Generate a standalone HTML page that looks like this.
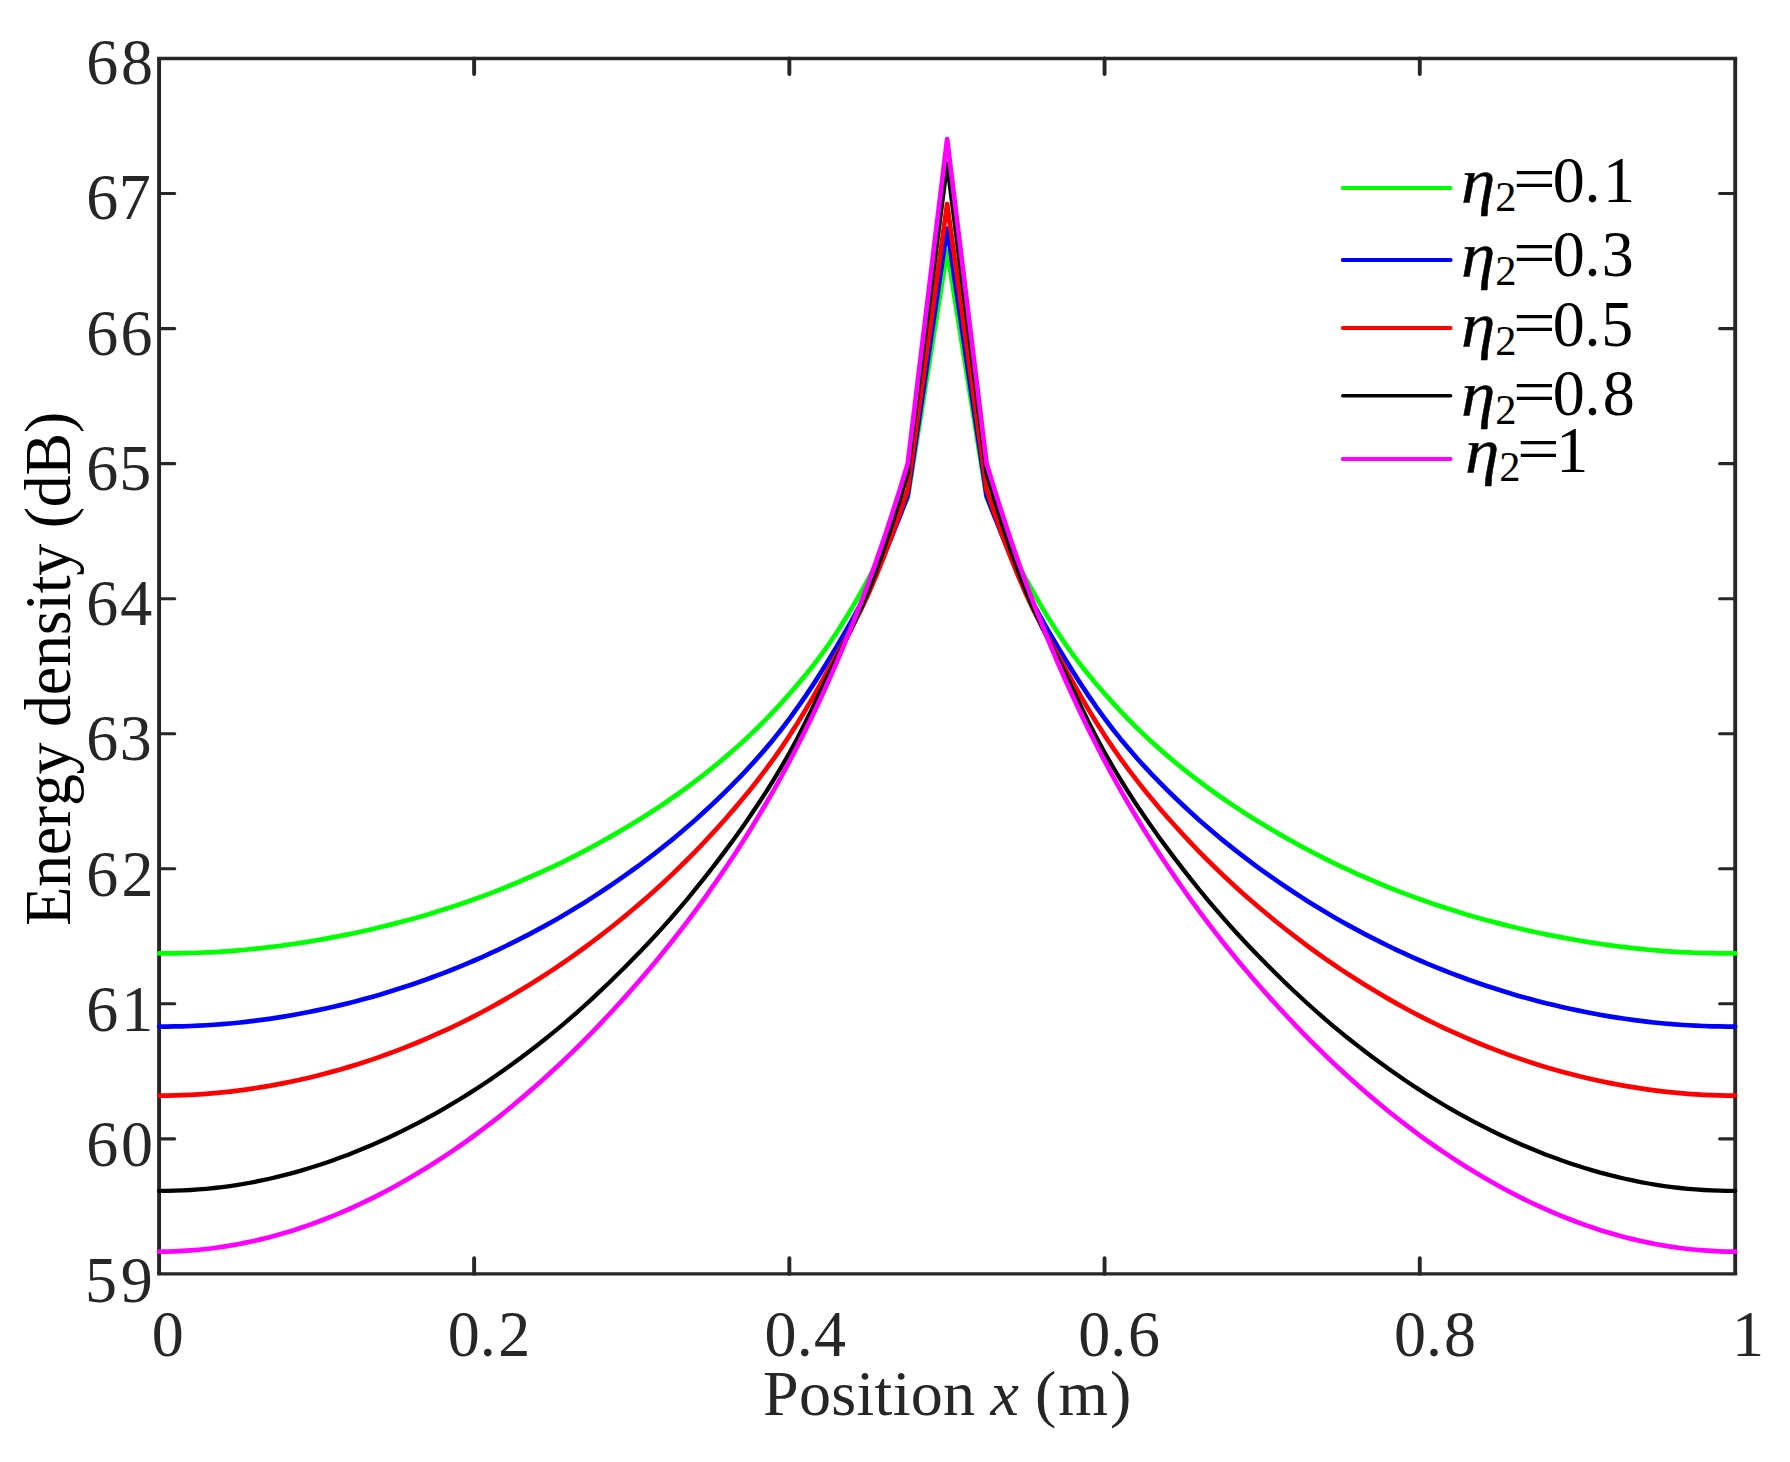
<!DOCTYPE html>
<html><head><meta charset="utf-8"><title>Energy density versus position</title>
<style>
html,body{margin:0;padding:0;background:#fff;}
svg{display:block;}
text{font-family:"Liberation Serif","Times New Roman",Times,serif;}
</style></head>
<body>
<svg width="1790" height="1462" viewBox="0 0 1790 1462">
<rect x="0" y="0" width="1790" height="1462" fill="#ffffff"/>
<path d="M157.15,58.50 H1737.15 M157.15,1273.90 H1737.15" fill="none" stroke="#262626" stroke-width="3.4"/>
<path d="M159.10,58.50 V1273.90 M1735.20,58.50 V1273.90" fill="none" stroke="#262626" stroke-width="3.9"/>
<path d="M159.10,193.54 h15.60 M1735.20,193.54 h-15.60 M159.10,328.59 h15.60 M1735.20,328.59 h-15.60 M159.10,463.63 h15.60 M1735.20,463.63 h-15.60 M159.10,598.68 h15.60 M1735.20,598.68 h-15.60 M159.10,733.72 h15.60 M1735.20,733.72 h-15.60 M159.10,868.77 h15.60 M1735.20,868.77 h-15.60 M159.10,1003.81 h15.60 M1735.20,1003.81 h-15.60 M159.10,1138.86 h15.60 M1735.20,1138.86 h-15.60" fill="none" stroke="#262626" stroke-width="3.1" stroke-linecap="round"/>
<path d="M474.12,1273.90 v-15.60 M474.12,58.50 v15.60 M789.34,1273.90 v-15.60 M789.34,58.50 v15.60 M1104.56,1273.90 v-15.60 M1104.56,58.50 v15.60 M1419.78,1273.90 v-15.60 M1419.78,58.50 v15.60" fill="none" stroke="#262626" stroke-width="3.9" stroke-linecap="round"/>
<path d="M159.10,953.40 L166.98,953.38 L174.86,953.30 L182.74,953.17 L190.62,952.98 L198.50,952.73 L206.38,952.42 L214.26,952.03 L222.14,951.57 L230.02,951.04 L237.91,950.42 L245.79,949.72 L253.67,948.95 L261.55,948.11 L269.43,947.19 L277.31,946.21 L285.19,945.15 L293.07,944.03 L300.95,942.83 L308.83,941.58 L316.71,940.25 L324.59,938.86 L332.47,937.42 L340.35,935.90 L348.23,934.33 L356.11,932.68 L363.99,930.97 L371.87,929.18 L379.75,927.33 L387.63,925.39 L395.51,923.38 L403.40,921.30 L411.28,919.15 L419.16,916.94 L427.04,914.65 L434.92,912.29 L442.80,909.85 L450.68,907.32 L458.56,904.72 L466.44,902.03 L474.32,899.25 L482.20,896.37 L490.08,893.41 L497.96,890.35 L505.84,887.21 L513.72,883.98 L521.60,880.66 L529.48,877.26 L537.36,873.77 L545.24,870.19 L553.12,866.53 L561.01,862.77 L568.89,858.89 L576.77,854.90 L584.65,850.80 L592.53,846.60 L600.41,842.29 L608.29,837.87 L616.17,833.36 L624.05,828.75 L631.93,824.04 L639.81,819.21 L647.69,814.25 L655.57,809.16 L663.45,803.92 L671.33,798.53 L679.21,792.99 L687.09,787.29 L694.97,781.42 L702.85,775.38 L710.74,769.16 L718.62,762.74 L726.50,756.12 L734.38,749.29 L742.26,742.21 L750.14,734.89 L758.02,727.29 L765.90,719.41 L773.78,711.21 L781.66,702.68 L789.54,693.80 L797.42,684.65 L805.30,675.23 L813.18,665.41 L821.06,655.05 L828.94,644.00 L836.82,632.24 L844.70,619.85 L852.58,606.85 L860.46,593.23 L868.35,579.00 L876.23,564.14 L884.11,548.59 L891.99,532.32 L899.87,515.30 L907.75,497.50 L947.15,251.00 L986.55,497.50 L994.43,515.30 L1002.31,532.32 L1010.19,548.59 L1018.07,564.14 L1025.96,579.00 L1033.84,593.23 L1041.72,606.85 L1049.60,619.85 L1057.48,632.24 L1065.36,644.00 L1073.24,655.05 L1081.12,665.41 L1089.00,675.23 L1096.88,684.65 L1104.76,693.80 L1112.64,702.68 L1120.52,711.21 L1128.40,719.41 L1136.28,727.29 L1144.16,734.89 L1152.04,742.21 L1159.92,749.29 L1167.80,756.12 L1175.68,762.74 L1183.56,769.16 L1191.45,775.38 L1199.33,781.42 L1207.21,787.29 L1215.09,792.99 L1222.97,798.53 L1230.85,803.92 L1238.73,809.16 L1246.61,814.25 L1254.49,819.21 L1262.37,824.04 L1270.25,828.75 L1278.13,833.36 L1286.01,837.87 L1293.89,842.29 L1301.77,846.60 L1309.65,850.80 L1317.53,854.90 L1325.41,858.89 L1333.29,862.77 L1341.17,866.53 L1349.06,870.19 L1356.94,873.77 L1364.82,877.26 L1372.70,880.66 L1380.58,883.98 L1388.46,887.21 L1396.34,890.35 L1404.22,893.41 L1412.10,896.37 L1419.98,899.25 L1427.86,902.03 L1435.74,904.72 L1443.62,907.32 L1451.50,909.85 L1459.38,912.29 L1467.26,914.65 L1475.14,916.94 L1483.02,919.15 L1490.90,921.30 L1498.79,923.38 L1506.67,925.39 L1514.55,927.33 L1522.43,929.18 L1530.31,930.97 L1538.19,932.68 L1546.07,934.33 L1553.95,935.90 L1561.83,937.42 L1569.71,938.86 L1577.59,940.25 L1585.47,941.58 L1593.35,942.83 L1601.23,944.03 L1609.11,945.15 L1616.99,946.21 L1624.87,947.19 L1632.75,948.11 L1640.63,948.95 L1648.51,949.72 L1656.39,950.42 L1664.28,951.04 L1672.16,951.57 L1680.04,952.03 L1687.92,952.42 L1695.80,952.73 L1703.68,952.98 L1711.56,953.17 L1719.44,953.30 L1727.32,953.38 L1735.20,953.40" fill="none" stroke="#00ff00" stroke-width="4.7" stroke-linejoin="round" stroke-linecap="round"/>
<path d="M159.10,1026.60 L166.98,1026.57 L174.86,1026.46 L182.74,1026.28 L190.62,1026.02 L198.50,1025.69 L206.38,1025.27 L214.26,1024.77 L222.14,1024.18 L230.02,1023.51 L237.91,1022.74 L245.79,1021.88 L253.67,1020.94 L261.55,1019.91 L269.43,1018.80 L277.31,1017.60 L285.19,1016.32 L293.07,1014.96 L300.95,1013.51 L308.83,1011.98 L316.71,1010.37 L324.59,1008.69 L332.47,1006.92 L340.35,1005.09 L348.23,1003.17 L356.11,1001.17 L363.99,999.09 L371.87,996.92 L379.75,994.66 L387.63,992.30 L395.51,989.85 L403.40,987.31 L411.28,984.69 L419.16,981.99 L427.04,979.20 L434.92,976.32 L442.80,973.35 L450.68,970.29 L458.56,967.13 L466.44,963.86 L474.32,960.50 L482.20,957.03 L490.08,953.46 L497.96,949.78 L505.84,946.00 L513.72,942.12 L521.60,938.14 L529.48,934.06 L537.36,929.88 L545.24,925.59 L553.12,921.21 L561.01,916.71 L568.89,912.07 L576.77,907.30 L584.65,902.41 L592.53,897.39 L600.41,892.25 L608.29,887.00 L616.17,881.62 L624.05,876.14 L631.93,870.54 L639.81,864.81 L647.69,858.93 L655.57,852.89 L663.45,846.69 L671.33,840.32 L679.21,833.78 L687.09,827.06 L694.97,820.15 L702.85,813.05 L710.74,805.74 L718.62,798.26 L726.50,790.59 L734.38,782.71 L742.26,774.58 L750.14,766.17 L758.02,757.45 L765.90,748.36 L773.78,738.89 L781.66,728.98 L789.54,718.60 L797.42,707.74 L805.30,696.41 L813.18,684.60 L821.06,672.30 L828.94,659.50 L836.82,646.40 L844.70,633.04 L852.58,619.18 L860.46,604.58 L868.35,589.00 L876.23,572.34 L884.11,554.65 L891.99,535.95 L899.87,516.23 L907.75,495.50 L947.15,228.50 L986.55,495.50 L994.43,516.23 L1002.31,535.95 L1010.19,554.65 L1018.07,572.34 L1025.96,589.00 L1033.84,604.58 L1041.72,619.18 L1049.60,633.04 L1057.48,646.40 L1065.36,659.50 L1073.24,672.30 L1081.12,684.60 L1089.00,696.41 L1096.88,707.74 L1104.76,718.60 L1112.64,728.98 L1120.52,738.89 L1128.40,748.36 L1136.28,757.45 L1144.16,766.17 L1152.04,774.58 L1159.92,782.71 L1167.80,790.59 L1175.68,798.26 L1183.56,805.74 L1191.45,813.05 L1199.33,820.15 L1207.21,827.06 L1215.09,833.78 L1222.97,840.32 L1230.85,846.69 L1238.73,852.89 L1246.61,858.93 L1254.49,864.81 L1262.37,870.54 L1270.25,876.14 L1278.13,881.62 L1286.01,887.00 L1293.89,892.25 L1301.77,897.39 L1309.65,902.41 L1317.53,907.30 L1325.41,912.07 L1333.29,916.71 L1341.17,921.21 L1349.06,925.59 L1356.94,929.88 L1364.82,934.06 L1372.70,938.14 L1380.58,942.12 L1388.46,946.00 L1396.34,949.78 L1404.22,953.46 L1412.10,957.03 L1419.98,960.50 L1427.86,963.86 L1435.74,967.13 L1443.62,970.29 L1451.50,973.35 L1459.38,976.32 L1467.26,979.20 L1475.14,981.99 L1483.02,984.69 L1490.90,987.31 L1498.79,989.85 L1506.67,992.30 L1514.55,994.66 L1522.43,996.92 L1530.31,999.09 L1538.19,1001.17 L1546.07,1003.17 L1553.95,1005.09 L1561.83,1006.92 L1569.71,1008.69 L1577.59,1010.37 L1585.47,1011.98 L1593.35,1013.51 L1601.23,1014.96 L1609.11,1016.32 L1616.99,1017.60 L1624.87,1018.80 L1632.75,1019.91 L1640.63,1020.94 L1648.51,1021.88 L1656.39,1022.74 L1664.28,1023.51 L1672.16,1024.18 L1680.04,1024.77 L1687.92,1025.27 L1695.80,1025.69 L1703.68,1026.02 L1711.56,1026.28 L1719.44,1026.46 L1727.32,1026.57 L1735.20,1026.60" fill="none" stroke="#0000ff" stroke-width="4.7" stroke-linejoin="round" stroke-linecap="round"/>
<path d="M159.10,1095.60 L166.98,1095.55 L174.86,1095.41 L182.74,1095.16 L190.62,1094.82 L198.50,1094.37 L206.38,1093.83 L214.26,1093.18 L222.14,1092.43 L230.02,1091.58 L237.91,1090.62 L245.79,1089.57 L253.67,1088.43 L261.55,1087.19 L269.43,1085.85 L277.31,1084.42 L285.19,1082.89 L293.07,1081.26 L300.95,1079.54 L308.83,1077.71 L316.71,1075.78 L324.59,1073.75 L332.47,1071.64 L340.35,1069.43 L348.23,1067.13 L356.11,1064.72 L363.99,1062.22 L371.87,1059.62 L379.75,1056.90 L387.63,1054.08 L395.51,1051.15 L403.40,1048.11 L411.28,1044.97 L419.16,1041.74 L427.04,1038.41 L434.92,1034.97 L442.80,1031.42 L450.68,1027.77 L458.56,1024.00 L466.44,1020.12 L474.32,1016.12 L482.20,1012.00 L490.08,1007.75 L497.96,1003.39 L505.84,998.90 L513.72,994.30 L521.60,989.59 L529.48,984.76 L537.36,979.82 L545.24,974.76 L553.12,969.59 L561.01,964.29 L568.89,958.84 L576.77,953.24 L584.65,947.51 L592.53,941.64 L600.41,935.63 L608.29,929.49 L616.17,923.22 L624.05,916.81 L631.93,910.28 L639.81,903.60 L647.69,896.75 L655.57,889.72 L663.45,882.51 L671.33,875.12 L679.21,867.54 L687.09,859.76 L694.97,851.78 L702.85,843.58 L710.74,835.17 L718.62,826.55 L726.50,817.72 L734.38,808.66 L742.26,799.32 L750.14,789.67 L758.02,779.69 L765.90,769.33 L773.78,758.55 L781.66,747.32 L789.54,735.60 L797.42,723.28 L805.30,710.32 L813.18,696.81 L821.06,682.85 L828.94,668.50 L836.82,654.30 L844.70,640.32 L852.58,626.00 L860.46,610.75 L868.35,594.00 L876.23,575.67 L884.11,556.05 L891.99,535.15 L899.87,512.97 L907.75,489.50 L947.15,204.00 L986.55,489.50 L994.43,512.97 L1002.31,535.15 L1010.19,556.05 L1018.07,575.67 L1025.96,594.00 L1033.84,610.75 L1041.72,626.00 L1049.60,640.32 L1057.48,654.30 L1065.36,668.50 L1073.24,682.85 L1081.12,696.81 L1089.00,710.32 L1096.88,723.28 L1104.76,735.60 L1112.64,747.32 L1120.52,758.55 L1128.40,769.33 L1136.28,779.69 L1144.16,789.67 L1152.04,799.32 L1159.92,808.66 L1167.80,817.72 L1175.68,826.55 L1183.56,835.17 L1191.45,843.58 L1199.33,851.78 L1207.21,859.76 L1215.09,867.54 L1222.97,875.12 L1230.85,882.51 L1238.73,889.72 L1246.61,896.75 L1254.49,903.60 L1262.37,910.28 L1270.25,916.81 L1278.13,923.22 L1286.01,929.49 L1293.89,935.63 L1301.77,941.64 L1309.65,947.51 L1317.53,953.24 L1325.41,958.84 L1333.29,964.29 L1341.17,969.59 L1349.06,974.76 L1356.94,979.82 L1364.82,984.76 L1372.70,989.59 L1380.58,994.30 L1388.46,998.90 L1396.34,1003.39 L1404.22,1007.75 L1412.10,1012.00 L1419.98,1016.12 L1427.86,1020.12 L1435.74,1024.00 L1443.62,1027.77 L1451.50,1031.42 L1459.38,1034.97 L1467.26,1038.41 L1475.14,1041.74 L1483.02,1044.97 L1490.90,1048.11 L1498.79,1051.15 L1506.67,1054.08 L1514.55,1056.90 L1522.43,1059.62 L1530.31,1062.22 L1538.19,1064.72 L1546.07,1067.13 L1553.95,1069.43 L1561.83,1071.64 L1569.71,1073.75 L1577.59,1075.78 L1585.47,1077.71 L1593.35,1079.54 L1601.23,1081.26 L1609.11,1082.89 L1616.99,1084.42 L1624.87,1085.85 L1632.75,1087.19 L1640.63,1088.43 L1648.51,1089.57 L1656.39,1090.62 L1664.28,1091.58 L1672.16,1092.43 L1680.04,1093.18 L1687.92,1093.83 L1695.80,1094.37 L1703.68,1094.82 L1711.56,1095.16 L1719.44,1095.41 L1727.32,1095.55 L1735.20,1095.60" fill="none" stroke="#ff0000" stroke-width="4.7" stroke-linejoin="round" stroke-linecap="round"/>
<path d="M159.10,1190.90 L166.98,1190.84 L174.86,1190.67 L182.74,1190.39 L190.62,1189.98 L198.50,1189.45 L206.38,1188.79 L214.26,1188.00 L222.14,1187.08 L230.02,1186.02 L237.91,1184.83 L245.79,1183.50 L253.67,1182.04 L261.55,1180.45 L269.43,1178.74 L277.31,1176.90 L285.19,1174.92 L293.07,1172.83 L300.95,1170.60 L308.83,1168.25 L316.71,1165.77 L324.59,1163.17 L332.47,1160.45 L340.35,1157.60 L348.23,1154.64 L356.11,1151.55 L363.99,1148.34 L371.87,1145.00 L379.75,1141.53 L387.63,1137.93 L395.51,1134.21 L403.40,1130.36 L411.28,1126.39 L419.16,1122.30 L427.04,1118.10 L434.92,1113.77 L442.80,1109.31 L450.68,1104.72 L458.56,1100.00 L466.44,1095.14 L474.32,1090.14 L482.20,1085.00 L490.08,1079.72 L497.96,1074.30 L505.84,1068.75 L513.72,1063.06 L521.60,1057.23 L529.48,1051.27 L537.36,1045.18 L545.24,1038.96 L553.12,1032.60 L561.01,1026.08 L568.89,1019.38 L576.77,1012.52 L584.65,1005.48 L592.53,998.29 L600.41,990.94 L608.29,983.44 L616.17,975.80 L624.05,968.02 L631.93,960.09 L639.81,952.01 L647.69,943.73 L655.57,935.26 L663.45,926.59 L671.33,917.71 L679.21,908.61 L687.09,899.29 L694.97,889.73 L702.85,879.93 L710.74,869.88 L718.62,859.61 L726.50,849.13 L734.38,838.40 L742.26,827.38 L750.14,816.02 L758.02,804.30 L765.90,792.16 L773.78,779.56 L781.66,766.46 L789.54,752.80 L797.42,738.29 L805.30,722.83 L813.18,706.69 L821.06,690.16 L828.94,673.50 L836.82,657.46 L844.70,642.05 L852.58,626.41 L860.46,609.68 L868.35,591.00 L876.23,570.35 L884.11,548.23 L891.99,524.65 L899.87,499.58 L907.75,473.00 L947.15,163.70 L986.55,473.00 L994.43,499.58 L1002.31,524.65 L1010.19,548.23 L1018.07,570.35 L1025.96,591.00 L1033.84,609.68 L1041.72,626.41 L1049.60,642.05 L1057.48,657.46 L1065.36,673.50 L1073.24,690.16 L1081.12,706.69 L1089.00,722.83 L1096.88,738.29 L1104.76,752.80 L1112.64,766.46 L1120.52,779.56 L1128.40,792.16 L1136.28,804.30 L1144.16,816.02 L1152.04,827.38 L1159.92,838.40 L1167.80,849.13 L1175.68,859.61 L1183.56,869.88 L1191.45,879.93 L1199.33,889.73 L1207.21,899.29 L1215.09,908.61 L1222.97,917.71 L1230.85,926.59 L1238.73,935.26 L1246.61,943.73 L1254.49,952.01 L1262.37,960.09 L1270.25,968.02 L1278.13,975.80 L1286.01,983.44 L1293.89,990.94 L1301.77,998.29 L1309.65,1005.48 L1317.53,1012.52 L1325.41,1019.38 L1333.29,1026.08 L1341.17,1032.60 L1349.06,1038.96 L1356.94,1045.18 L1364.82,1051.27 L1372.70,1057.23 L1380.58,1063.06 L1388.46,1068.75 L1396.34,1074.30 L1404.22,1079.72 L1412.10,1085.00 L1419.98,1090.14 L1427.86,1095.14 L1435.74,1100.00 L1443.62,1104.72 L1451.50,1109.31 L1459.38,1113.77 L1467.26,1118.10 L1475.14,1122.30 L1483.02,1126.39 L1490.90,1130.36 L1498.79,1134.21 L1506.67,1137.93 L1514.55,1141.53 L1522.43,1145.00 L1530.31,1148.34 L1538.19,1151.55 L1546.07,1154.64 L1553.95,1157.60 L1561.83,1160.45 L1569.71,1163.17 L1577.59,1165.77 L1585.47,1168.25 L1593.35,1170.60 L1601.23,1172.83 L1609.11,1174.92 L1616.99,1176.90 L1624.87,1178.74 L1632.75,1180.45 L1640.63,1182.04 L1648.51,1183.50 L1656.39,1184.83 L1664.28,1186.02 L1672.16,1187.08 L1680.04,1188.00 L1687.92,1188.79 L1695.80,1189.45 L1703.68,1189.98 L1711.56,1190.39 L1719.44,1190.67 L1727.32,1190.84 L1735.20,1190.90" fill="none" stroke="#000000" stroke-width="4.3" stroke-linejoin="round" stroke-linecap="round"/>
<path d="M159.10,1251.60 L166.98,1251.53 L174.86,1251.31 L182.74,1250.95 L190.62,1250.44 L198.50,1249.78 L206.38,1248.97 L214.26,1248.01 L222.14,1246.91 L230.02,1245.64 L237.91,1244.23 L245.79,1242.67 L253.67,1240.98 L261.55,1239.15 L269.43,1237.17 L277.31,1235.06 L285.19,1232.80 L293.07,1230.39 L300.95,1227.84 L308.83,1225.14 L316.71,1222.29 L324.59,1219.29 L332.47,1216.16 L340.35,1212.89 L348.23,1209.48 L356.11,1205.93 L363.99,1202.24 L371.87,1198.40 L379.75,1194.41 L387.63,1190.28 L395.51,1185.99 L403.40,1181.57 L411.28,1177.01 L419.16,1172.31 L427.04,1167.48 L434.92,1162.51 L442.80,1157.40 L450.68,1152.15 L458.56,1146.75 L466.44,1141.22 L474.32,1135.53 L482.20,1129.69 L490.08,1123.69 L497.96,1117.53 L505.84,1111.22 L513.72,1104.76 L521.60,1098.15 L529.48,1091.40 L537.36,1084.50 L545.24,1077.46 L553.12,1070.28 L561.01,1062.93 L568.89,1055.41 L576.77,1047.71 L584.65,1039.84 L592.53,1031.80 L600.41,1023.60 L608.29,1015.24 L616.17,1006.73 L624.05,998.06 L631.93,989.24 L639.81,980.25 L647.69,971.06 L655.57,961.67 L663.45,952.06 L671.33,942.23 L679.21,932.17 L687.09,921.87 L694.97,911.33 L702.85,900.53 L710.74,889.47 L718.62,878.14 L726.50,866.55 L734.38,854.68 L742.26,842.49 L750.14,829.97 L758.02,817.07 L765.90,803.78 L773.78,790.05 L781.66,775.87 L789.54,761.20 L797.42,746.04 L805.30,730.38 L813.18,714.18 L821.06,697.40 L828.94,680.00 L836.82,661.97 L844.70,643.31 L852.58,623.96 L860.46,603.88 L868.35,583.00 L876.23,561.16 L884.11,538.24 L891.99,514.30 L899.87,489.37 L907.75,463.50 L947.15,139.00 L986.55,463.50 L994.43,489.37 L1002.31,514.30 L1010.19,538.24 L1018.07,561.16 L1025.96,583.00 L1033.84,603.88 L1041.72,623.96 L1049.60,643.31 L1057.48,661.97 L1065.36,680.00 L1073.24,697.40 L1081.12,714.18 L1089.00,730.38 L1096.88,746.04 L1104.76,761.20 L1112.64,775.87 L1120.52,790.05 L1128.40,803.78 L1136.28,817.07 L1144.16,829.97 L1152.04,842.49 L1159.92,854.68 L1167.80,866.55 L1175.68,878.14 L1183.56,889.47 L1191.45,900.53 L1199.33,911.33 L1207.21,921.87 L1215.09,932.17 L1222.97,942.23 L1230.85,952.06 L1238.73,961.67 L1246.61,971.06 L1254.49,980.25 L1262.37,989.24 L1270.25,998.06 L1278.13,1006.73 L1286.01,1015.24 L1293.89,1023.60 L1301.77,1031.80 L1309.65,1039.84 L1317.53,1047.71 L1325.41,1055.41 L1333.29,1062.93 L1341.17,1070.28 L1349.06,1077.46 L1356.94,1084.50 L1364.82,1091.40 L1372.70,1098.15 L1380.58,1104.76 L1388.46,1111.22 L1396.34,1117.53 L1404.22,1123.69 L1412.10,1129.69 L1419.98,1135.53 L1427.86,1141.22 L1435.74,1146.75 L1443.62,1152.15 L1451.50,1157.40 L1459.38,1162.51 L1467.26,1167.48 L1475.14,1172.31 L1483.02,1177.01 L1490.90,1181.57 L1498.79,1185.99 L1506.67,1190.28 L1514.55,1194.41 L1522.43,1198.40 L1530.31,1202.24 L1538.19,1205.93 L1546.07,1209.48 L1553.95,1212.89 L1561.83,1216.16 L1569.71,1219.29 L1577.59,1222.29 L1585.47,1225.14 L1593.35,1227.84 L1601.23,1230.39 L1609.11,1232.80 L1616.99,1235.06 L1624.87,1237.17 L1632.75,1239.15 L1640.63,1240.98 L1648.51,1242.67 L1656.39,1244.23 L1664.28,1245.64 L1672.16,1246.91 L1680.04,1248.01 L1687.92,1248.97 L1695.80,1249.78 L1703.68,1250.44 L1711.56,1250.95 L1719.44,1251.31 L1727.32,1251.53 L1735.20,1251.60" fill="none" stroke="#ff00ff" stroke-width="4.7" stroke-linejoin="round" stroke-linecap="round"/>
<text transform="translate(0,83.90) scale(1,1.030)" x="86.17 120.96" y="0" font-size="64.00" fill="#262626">68</text>
<text transform="translate(0,219.21) scale(1,1.030)" x="86.17 118.77" y="0" font-size="64.00" fill="#262626">67</text>
<text transform="translate(0,354.52) scale(1,1.030)" x="86.17 120.57" y="0" font-size="64.00" fill="#262626">66</text>
<text transform="translate(0,489.83) scale(1,1.030)" x="86.17 119.38" y="0" font-size="64.00" fill="#262626">65</text>
<text transform="translate(0,625.14) scale(1,1.030)" x="86.17 120.30" y="0" font-size="64.00" fill="#262626">64</text>
<text transform="translate(0,760.45) scale(1,1.030)" x="86.17 119.83" y="0" font-size="64.00" fill="#262626">63</text>
<text transform="translate(0,895.76) scale(1,1.030)" x="86.17 121.44" y="0" font-size="64.00" fill="#262626">62</text>
<text transform="translate(0,1031.07) scale(1,1.030)" x="86.17 121.29" y="0" font-size="64.00" fill="#262626">61</text>
<text transform="translate(0,1166.38) scale(1,1.030)" x="86.17 120.93" y="0" font-size="64.00" fill="#262626">60</text>
<text transform="translate(0,1301.69) scale(1,1.030)" x="84.98 120.86" y="0" font-size="64.00" fill="#262626">59</text>
<text transform="translate(0,1355.90) scale(1,1.030)" x="151.82" y="0" font-size="64.00" fill="#262626">0</text>
<text transform="translate(0,1355.90) scale(1,1.030)" x="447.82 479.84 498.34" y="0" font-size="64.00" fill="#262626">0.2</text>
<text transform="translate(0,1355.90) scale(1,1.030)" x="764.62 796.64 814.00" y="0" font-size="64.00" fill="#262626">0.4</text>
<text transform="translate(0,1355.90) scale(1,1.030)" x="1078.33 1110.34 1127.97" y="0" font-size="64.00" fill="#262626">0.6</text>
<text transform="translate(0,1355.90) scale(1,1.030)" x="1393.92 1425.94 1443.96" y="0" font-size="64.00" fill="#262626">0.8</text>
<text transform="translate(0,1355.90) scale(1,1.030)" x="1732.05" y="0" font-size="64.00" fill="#262626">1</text>
<text x="763.06 798.96 831.27 856.49 874.58 892.67 910.76 943.07" y="1415.00" font-size="64.00" fill="#262626">Position</text>
<text x="990.38" y="1415.00" font-size="64.00" fill="#262626" font-style="italic">x</text>
<text x="1034.89 1058.26 1110.10" y="1415.00" font-size="64.00" fill="#262626">(m)</text>
<g transform="translate(70.2,0) rotate(-90) scale(1,1.035)">
<text x="-925.84 -887.02 -855.29 -827.15 -806.11 -774.38 -742.65 -726.91 -695.18 -667.05 -635.32 -610.68 -593.17 -575.65 -543.92 -528.19 -507.15 -475.42 -433.00" y="0.00" font-size="64.00" fill="#000">Energy density (dB)</text>
</g>
<path d="M1342.8,188.00 H1450.6" stroke="#00ff00" stroke-width="4.0" stroke-linecap="round" fill="none"/>
<text transform="translate(1463.80,202.00) scale(1.087,1)" x="-2.25" y="0" font-size="63.00" font-style="italic" fill="#000" stroke="#000" stroke-width="0.5">η</text>
<text x="1495.21" y="211.00" font-size="42.50" fill="#000">2</text>
<text transform="translate(1516.70,200.40) scale(1.182,1)" x="-3.19" y="0" font-size="64.00" fill="#000">=</text>
<text transform="translate(0,202.00) scale(1,1.030)" x="1552.72 1584.44 1603.09" y="0" font-size="64.00" fill="#000">0.1</text>
<path d="M1342.8,260.00 H1450.6" stroke="#0000ff" stroke-width="4.0" stroke-linecap="round" fill="none"/>
<text transform="translate(1463.80,276.00) scale(1.087,1)" x="-2.25" y="0" font-size="63.00" font-style="italic" fill="#000" stroke="#000" stroke-width="0.5">η</text>
<text x="1495.21" y="285.00" font-size="42.50" fill="#000">2</text>
<text transform="translate(1516.70,274.40) scale(1.182,1)" x="-3.19" y="0" font-size="64.00" fill="#000">=</text>
<text transform="translate(0,276.00) scale(1,1.030)" x="1552.72 1584.44 1601.63" y="0" font-size="64.00" fill="#000">0.3</text>
<path d="M1342.8,328.10 H1450.6" stroke="#ff0000" stroke-width="4.0" stroke-linecap="round" fill="none"/>
<text transform="translate(1463.80,346.00) scale(1.087,1)" x="-2.25" y="0" font-size="63.00" font-style="italic" fill="#000" stroke="#000" stroke-width="0.5">η</text>
<text x="1495.21" y="355.00" font-size="42.50" fill="#000">2</text>
<text transform="translate(1516.70,344.40) scale(1.182,1)" x="-3.19" y="0" font-size="64.00" fill="#000">=</text>
<text transform="translate(0,346.00) scale(1,1.030)" x="1552.72 1584.44 1601.18" y="0" font-size="64.00" fill="#000">0.5</text>
<path d="M1342.8,395.80 H1450.6" stroke="#000000" stroke-width="3.6" stroke-linecap="round" fill="none"/>
<text transform="translate(1463.80,414.90) scale(1.087,1)" x="-2.25" y="0" font-size="63.00" font-style="italic" fill="#000" stroke="#000" stroke-width="0.5">η</text>
<text x="1495.21" y="423.90" font-size="42.50" fill="#000">2</text>
<text transform="translate(1516.70,413.30) scale(1.182,1)" x="-3.19" y="0" font-size="64.00" fill="#000">=</text>
<text transform="translate(0,414.90) scale(1,1.030)" x="1552.72 1584.44 1602.76" y="0" font-size="64.00" fill="#000">0.8</text>
<path d="M1342.8,459.10 H1450.6" stroke="#ff00ff" stroke-width="4.0" stroke-linecap="round" fill="none"/>
<text transform="translate(1467.80,472.00) scale(1.087,1)" x="-2.25" y="0" font-size="63.00" font-style="italic" fill="#000" stroke="#000" stroke-width="0.5">η</text>
<text x="1499.21" y="481.00" font-size="42.50" fill="#000">2</text>
<text transform="translate(1520.70,470.40) scale(1.182,1)" x="-3.19" y="0" font-size="64.00" fill="#000">=</text>
<text transform="translate(0,472.00) scale(1,1.030)" x="1556.35" y="0" font-size="64.00" fill="#000">1</text>
</svg>
</body></html>
